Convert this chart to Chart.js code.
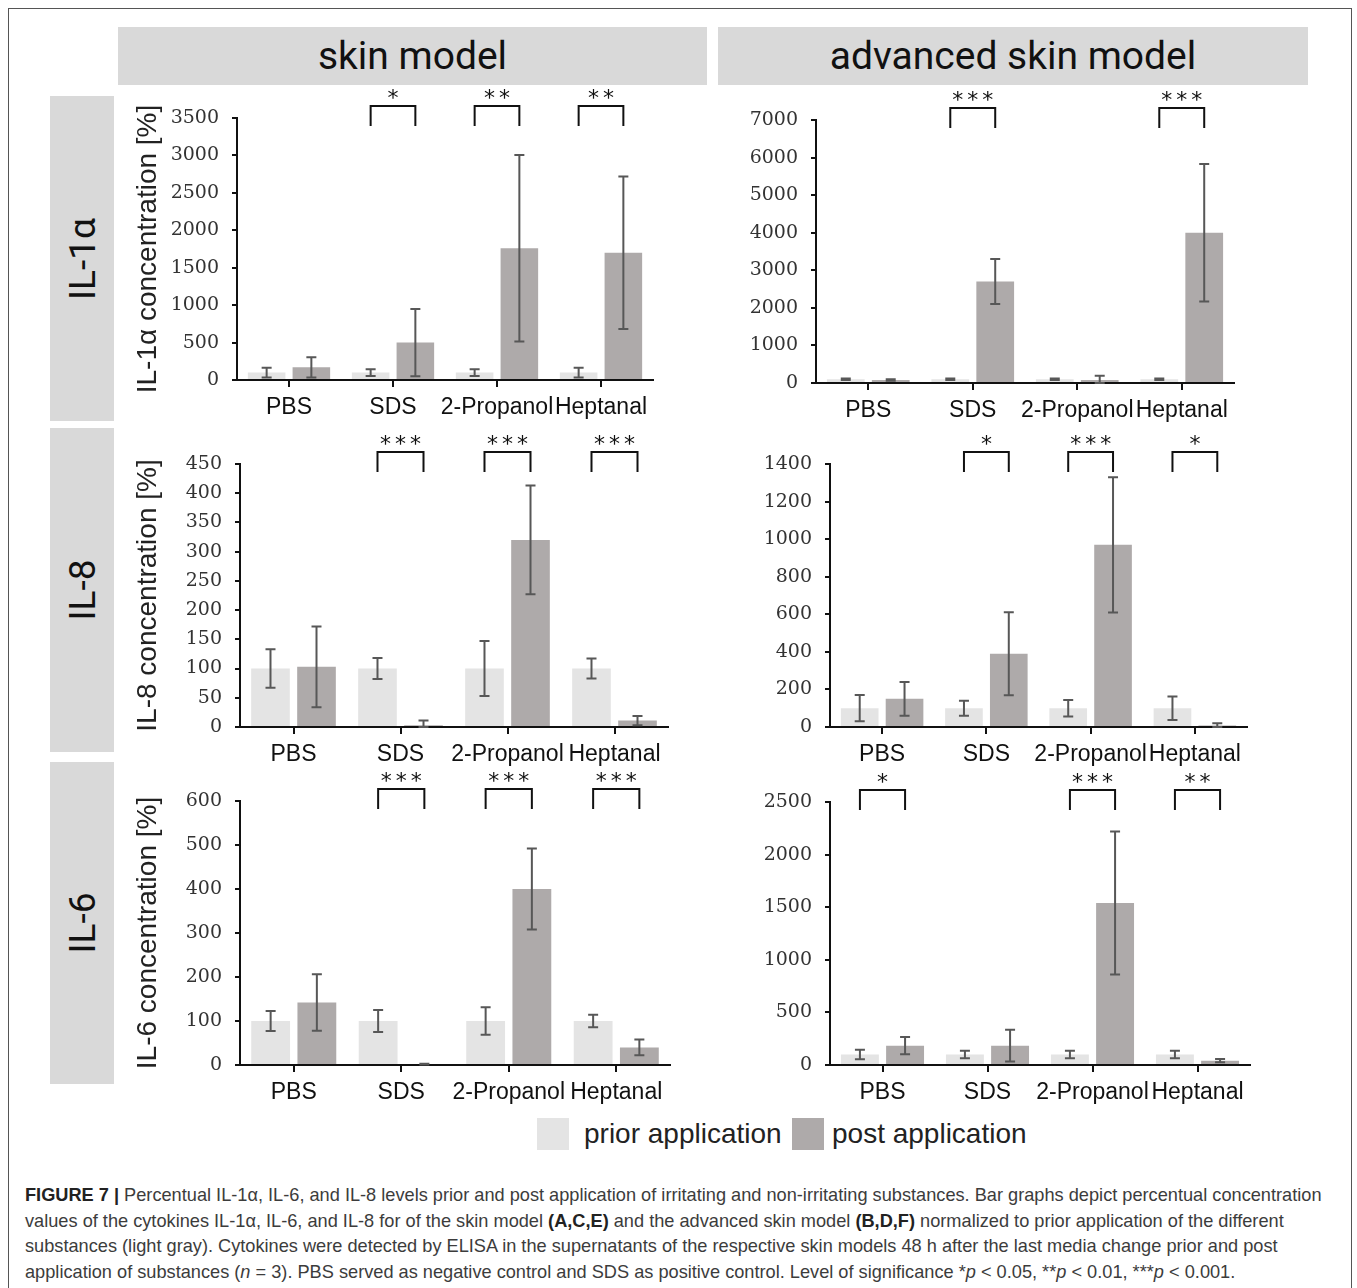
<!DOCTYPE html>
<html>
<head>
<meta charset="utf-8">
<script src="https://cdn.jsdelivr.net/npm/chart.js@4.4.1/dist/chart.umd.min.js"></script>
<style>
  body { margin: 0; background: #fff; width: 1357px; height: 1288px; overflow: hidden; position: relative; font-family: "Liberation Sans", Arial, sans-serif; }
  .frame { position: absolute; left: 8px; top: 8px; width: 1342px; height: 1300px; border: 1px solid #555; }
  .head { position: absolute; top: 27px; height: 58px; background: #d9d9d9; font-family: Roboto, sans-serif; font-size: 39px; line-height: 58px; text-align: center; color: #111; }
  .row { position: absolute; left: 50px; width: 64px; background: #d9d9d9; }
  .row span { position: absolute; left: 50%; top: 50%; transform: translate(-50%, -50%) rotate(-90deg); font-family: Roboto, sans-serif; font-size: 37px; white-space: nowrap; color: #111; }
  .box { position: absolute; }
  .sw { position: absolute; top: 1118px; width: 32px; height: 32px; }
  .lg { position: absolute; top: 1116px; font-size: 28px; line-height: 36px; color: #222; white-space: nowrap; }
  .caption { position: absolute; left: 25px; top: 1183px; font-size: 18.2px; line-height: 25.7px; color: #3c3c3c; white-space: nowrap; }
  .caption b { color: #222; }
</style>
</head>
<body>
<div class="frame"></div>
<div class="head" style="left:118px;width:589px;">skin model</div>
<div class="head" style="left:718px;width:590px;">advanced skin model</div>
<div class="row" style="top:96px;height:325px;"><span>IL-1α</span></div>
<div class="row" style="top:428px;height:324px;"><span>IL-8</span></div>
<div class="row" style="top:762px;height:322px;"><span>IL-6</span></div>

<div class="box" style="left:120px;top:88px;"><canvas id="chartA" width="570" height="340"></canvas></div>
<div class="box" style="left:712px;top:88px;"><canvas id="chartB" width="570" height="340"></canvas></div>
<div class="box" style="left:120px;top:430px;"><canvas id="chartC" width="570" height="342"></canvas></div>
<div class="box" style="left:712px;top:430px;"><canvas id="chartD" width="570" height="342"></canvas></div>
<div class="box" style="left:120px;top:772px;"><canvas id="chartE" width="570" height="336"></canvas></div>
<div class="box" style="left:712px;top:772px;"><canvas id="chartF" width="570" height="336"></canvas></div>

<div class="sw" style="left:537px;background:#e4e4e4;"></div>
<div class="lg" style="left:584px;">prior application</div>
<div class="sw" style="left:792px;background:#aeaaaa;"></div>
<div class="lg" style="left:832px;">post application</div>

<div class="caption">
<b>FIGURE 7 |</b> Percentual IL-1α, IL-6, and IL-8 levels prior and post application of irritating and non-irritating substances. Bar graphs depict percentual concentration<br>
values of the cytokines IL-1α, IL-6, and IL-8 for of the skin model <b>(A,C,E)</b> and the advanced skin model <b>(B,D,F)</b> normalized to prior application of the different<br>
substances (light gray). Cytokines were detected by ELISA in the supernatants of the respective skin models 48 h after the last media change prior and post<br>
application of substances (<i>n</i> = 3). PBS served as negative control and SDS as positive control. Level of significance *<i>p</i> &lt; 0.05, **<i>p</i> &lt; 0.01, ***<i>p</i> &lt; 0.001.
</div>

<script>
//*** DATA ***//
const categories = ['PBS', 'SDS', '2-Propanol', 'Heptanal'];

// IL-1α, skin model (A)
const il1aSkinPrior = [100, 100, 100, 100];
const il1aSkinPost = [170, 500, 1760, 1700];
const il1aSkinPriorErr = [65, 45, 45, 65];
const il1aSkinPostErr = [135, 450, 1245, 1020];
const il1aSkinSig = ['', '*', '**', '**'];

// IL-1α, advanced skin model (B)
const il1aAdvPrior = [100, 100, 100, 100];
const il1aAdvPost = [80, 2700, 80, 4000];
const il1aAdvPriorErr = [20, 20, 20, 20];
const il1aAdvPostErr = [20, 600, 110, 1830];
const il1aAdvSig = ['', '***', '', '***'];

// IL-8, skin model (C)
const il8SkinPrior = [100, 100, 100, 100];
const il8SkinPost = [103, 3, 320, 11];
const il8SkinPriorErr = [33, 18, 47, 17];
const il8SkinPostErr = [69, 8, 93, 8];
const il8SkinSig = ['', '***', '***', '***'];

// IL-8, advanced skin model (D)
const il8AdvPrior = [100, 100, 100, 100];
const il8AdvPost = [150, 390, 970, 8];
const il8AdvPriorErr = [70, 40, 44, 63];
const il8AdvPostErr = [90, 221, 360, 12];
const il8AdvSig = ['', '*', '***', '*'];

// IL-6, skin model (E)
const il6SkinPrior = [100, 100, 100, 100];
const il6SkinPost = [142, 2, 400, 40];
const il6SkinPriorErr = [23, 25, 31, 14];
const il6SkinPostErr = [64, 1, 92, 18];
const il6SkinSig = ['', '***', '***', '***'];

// IL-6, advanced skin model (F)
const il6AdvPrior = [100, 100, 100, 100];
const il6AdvPost = [184, 184, 1540, 41];
const il6AdvPriorErr = [45, 35, 35, 35];
const il6AdvPostErr = [81, 150, 680, 15];
const il6AdvSig = ['*', '', '***', '**'];

//*** FUNCTIONS ***//
// error bars + significance brackets
const overlay = (priorErr, postErr, sig) => ({
    id: 'overlay',
    afterDatasetsDraw(chart) {
        const ctx = chart.ctx;
        const y = chart.scales.y;
        const area = chart.chartArea;
        ctx.save();
        ctx.lineWidth = 2;
        ctx.strokeStyle = '#575757';
        [priorErr, postErr].forEach((err, d) => {
            chart.getDatasetMeta(d).data.forEach((bar, i) => {
                const v = chart.data.datasets[d].data[i];
                const top = y.getPixelForValue(v + err[i]);
                const bot = y.getPixelForValue(Math.max(0, v - err[i]));
                ctx.beginPath();
                ctx.moveTo(bar.x, top); ctx.lineTo(bar.x, bot);
                ctx.moveTo(bar.x - 5, top); ctx.lineTo(bar.x + 5, top);
                ctx.moveTo(bar.x - 5, bot); ctx.lineTo(bar.x + 5, bot);
                ctx.stroke();
            });
        });

        const p = chart.getDatasetMeta(0).data;
        const q = chart.getDatasetMeta(1).data;
        ctx.strokeStyle = '#111';
        ctx.fillStyle = '#111';
        ctx.font = '22px "DejaVu Sans"';
        ctx.textAlign = 'center';
        ctx.textBaseline = 'middle';
        sig.forEach((s, i) => {
            if (!s) return;
            const x1 = p[i].x, x2 = q[i].x;
            const t = area.top - 12, b = area.top + 8;
            ctx.beginPath();
            ctx.moveTo(x1, b); ctx.lineTo(x1, t); ctx.lineTo(x2, t); ctx.lineTo(x2, b);
            ctx.stroke();
            const mid = (x1 + x2) / 2;
            for (let k = 0; k < s.length; k++) {
                ctx.fillText('*', mid + (k - (s.length - 1) / 2) * 15, t - 7);
            }
        });
        ctx.restore();
    }
});

const initChart = (id, box, plot, prior, post, priorErr, postErr, sig, max, step, title) => {
    return new Chart(document.getElementById(id), {
        type: 'bar',
        data: {
            labels: categories,
            datasets: [
                { label: 'prior application', data: prior, backgroundColor: '#e4e4e4' },
                { label: 'post application', data: post, backgroundColor: '#aeaaaa' }
            ]
        },
        options: {
            responsive: false,
            animation: false,
            categoryPercentage: 0.86,
            barPercentage: 0.84,
            layout: { padding: { top: plot.top - box.top, right: box.right - plot.right, left: 0, bottom: 0 } },
            plugins: { legend: { display: false }, tooltip: { enabled: false } },
            scales: {
                x: {
                    grid: { offset: false, drawOnChartArea: false, tickLength: 7, color: '#111', lineWidth: 2 },
                    border: { color: '#111', width: 2 },
                    ticks: { color: '#111', font: { family: 'Liberation Sans', size: 23 }, padding: 7, autoSkip: false, maxRotation: 0 },
                    afterFit: (s) => { s.height = box.bottom - plot.bottom; }
                },
                y: {
                    min: 0,
                    max,
                    grid: { drawOnChartArea: false, tickLength: 5, color: '#111', lineWidth: 2 },
                    border: { color: '#111', width: 2 },
                    ticks: { stepSize: step, color: '#333', font: { family: 'DejaVu Serif', size: 19 }, padding: 13, callback: (v) => String(v) },
                    title: { display: !!title, text: title, color: '#222', font: { family: 'Liberation Sans', size: 28 }, padding: { top: 11, bottom: 0 } },
                    afterFit: (s) => { s.width = plot.left - box.left; }
                }
            }
        },
        plugins: [overlay(priorErr, postErr, sig)]
    });
};

const rect = (x, y, w, h) => ({ left: x, top: y, right: x + w, bottom: y + h });

//*** CHARTS ***//
initChart('chartA', rect(120, 88, 570, 340), { left: 237, top: 118, right: 653, bottom: 380 },
    il1aSkinPrior, il1aSkinPost, il1aSkinPriorErr, il1aSkinPostErr, il1aSkinSig, 3500, 500, 'IL-1α concentration [%]');
initChart('chartB', rect(712, 88, 570, 340), { left: 816, top: 120, right: 1234, bottom: 383 },
    il1aAdvPrior, il1aAdvPost, il1aAdvPriorErr, il1aAdvPostErr, il1aAdvSig, 7000, 1000, '');
initChart('chartC', rect(120, 430, 570, 342), { left: 240, top: 464, right: 668, bottom: 727 },
    il8SkinPrior, il8SkinPost, il8SkinPriorErr, il8SkinPostErr, il8SkinSig, 450, 50, 'IL-8 concentration [%]');
initChart('chartD', rect(712, 430, 570, 342), { left: 830, top: 464, right: 1247, bottom: 727 },
    il8AdvPrior, il8AdvPost, il8AdvPriorErr, il8AdvPostErr, il8AdvSig, 1400, 200, '');
initChart('chartE', rect(120, 772, 570, 336), { left: 240, top: 801, right: 670, bottom: 1065 },
    il6SkinPrior, il6SkinPost, il6SkinPriorErr, il6SkinPostErr, il6SkinSig, 600, 100, 'IL-6 concentration [%]');
initChart('chartF', rect(712, 772, 570, 336), { left: 830, top: 802, right: 1250, bottom: 1065 },
    il6AdvPrior, il6AdvPost, il6AdvPriorErr, il6AdvPostErr, il6AdvSig, 2500, 500, '');
</script>
</body>
</html>
